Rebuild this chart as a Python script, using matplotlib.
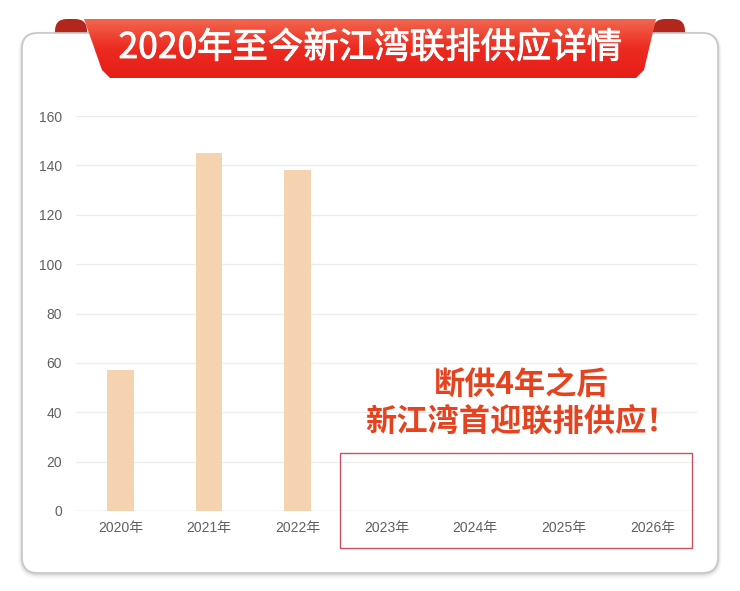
import numpy as np
import matplotlib
matplotlib.use("Agg")
import matplotlib.pyplot as plt
import matplotlib.patheffects as pe
from matplotlib.patches import FancyBboxPatch, Polygon, Rectangle

plt.rcParams['font.family'] = ['Noto Sans CJK SC', 'DejaVu Sans']

years = ['2020年', '2021年', '2022年', '2023年', '2024年', '2025年', '2026年']
supply = [57, 145, 138, 0, 0, 0, 0]
yticks = [0, 20, 40, 60, 80, 100, 120, 140, 160]
title = '2020年至今新江湾联排供应详情'
note = '断供4年之后\n新江湾首迎联排供应！'

W, H = 740, 591
fig = plt.figure(figsize=(W / 100, H / 100), dpi=100)
fig.patch.set_facecolor('white')

# background layer in pixel coords
bg = fig.add_axes([0, 0, 1, 1], zorder=0)
bg.set_xlim(0, W)
bg.set_ylim(H, 0)
bg.axis('off')

# ribbon tabs (behind the card)
for x0 in (55, 653):
    bg.add_patch(FancyBboxPatch((x0, 19), 32, 28, boxstyle='round,pad=0,rounding_size=12',
                                facecolor='#b3261b', edgecolor='none'))

# card with soft shadow
for off, a in [(4, 0.08), (2.5, 0.12), (1.2, 0.2)]:
    bg.add_patch(FancyBboxPatch((22, 33 + off * 0.5), 696, 540, boxstyle='round,pad=0,rounding_size=16',
                                facecolor='none', edgecolor='#888888', lw=off * 1.2, alpha=a))
bg.add_patch(FancyBboxPatch((22, 33), 696, 540, boxstyle='round,pad=0,rounding_size=16',
                            facecolor='white', edgecolor='#c8c8c8', lw=1.2))

# ribbon body with gradient
body = Polygon([(84, 19), (656, 19), (644, 70), (636, 78), (110, 78), (102, 70)],
               closed=True, facecolor='none', edgecolor='none')
bg.add_patch(body)
grad = np.linspace(0, 1, 100).reshape(-1, 1)
cmap = matplotlib.colors.LinearSegmentedColormap.from_list('rib', ['#f2664f', '#ec2a20', '#e61e18'])
im = bg.imshow(grad, cmap=cmap, extent=(84, 656, 78, 19), aspect='auto', zorder=2)
im.set_clip_path(body)
bg.text(370, 48, title, color='white', fontsize=25.5,
        ha='center', va='center', zorder=3,
        path_effects=[pe.withStroke(linewidth=0.6, foreground='white')])

# chart
ax = fig.add_axes([76 / W, (H - 511) / H, (697 - 76) / W, 395 / H], zorder=1)
ax.patch.set_alpha(0)
x = np.arange(len(years))
ax.bar(x, supply, width=0.3, color='#f5d3b1', zorder=2)
ax.set_xlim(-0.5, len(years) - 0.5)
ax.set_ylim(0, 160)
ax.set_yticks(yticks)
ax.set_xticks(x)
ax.set_xticklabels(years)
ax.grid(axis='y', color='#ededed', lw=0.9, zorder=0)
ax.axhline(0, color='#dcdcdc', lw=1, zorder=1)
for s in ax.spines.values():
    s.set_visible(False)
ax.tick_params(length=0, colors='#606060', labelsize=10)
ax.tick_params(axis='y', pad=10)
ax.tick_params(axis='x', pad=7)
for lab in ax.get_xticklabels() + ax.get_yticklabels():
    lab.set_family(['Liberation Sans', 'Noto Sans CJK SC'])

# highlight box and note
ax.add_patch(Rectangle((2.475, -15), 3.97, 38.5, facecolor='none', edgecolor='#c9505c',
                       lw=1, clip_on=False, zorder=3))
ax.text(4.52, 43.5, note, color='#e5431f', fontsize=22.5, fontweight='bold',
        ha='center', va='center', linespacing=1.15)

fig.savefig('out.png', dpi=100)
